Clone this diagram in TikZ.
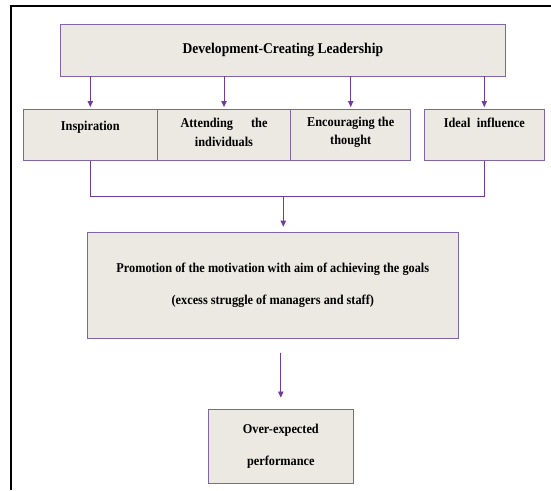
\documentclass[tikz,border=0pt]{standalone}
\usepackage{fontspec}
\setmainfont{Liberation Serif}[FakeStretch=0.91]
\usetikzlibrary{arrows.meta, positioning}

\definecolor{boxfill}{RGB}{236,233,226}
\definecolor{boxline}{RGB}{128,100,168}
\definecolor{arrline}{RGB}{112,60,160}

\begin{document}
\begin{tikzpicture}[x=1pt, y=-1pt]
\tikzstyle{box}=[draw=boxline, fill=boxfill, line width=0.8pt, inner sep=0pt, outer sep=0pt, align=center,
  font=\bfseries\fontsize{13.5}{31.7}\selectfont]
\tikzstyle{txt}=[inner sep=0pt, align=center, font=\bfseries\fontsize{13.5}{18.7}\selectfont]
\tikzstyle{conn}=[draw=arrline, line width=0.8pt]
\tikzstyle{arr}=[conn, -{Triangle[length=6pt, width=5.5pt]}]
\useasboundingbox (0,0) rectangle (551,490);
\draw[line width=2pt] (551,6) -- (10.7,6) -- (10.7,490);

% leadership and its four parts
\node[box, minimum width=444.3pt, minimum height=51.7pt, font=\bfseries\fontsize{14.9}{17}\selectfont]
   (lead) at (282.85,50.15) {Development-Creating Leadership};
\node[box, minimum width=134pt, minimum height=51.7pt] (inspire) at (90.3,134.85) {};
\node[box, minimum width=133.4pt, minimum height=51.7pt] (attend) at (224,134.85) {};
\node[box, minimum width=120pt, minimum height=51.7pt] (encour) at (350.7,134.85) {};
\node[box, minimum width=120pt, minimum height=51.7pt] (ideal) at (484.3,134.85) {};

\node[txt] at ([yshift=-18.7pt]inspire.north) {Inspiration};
\node[txt] at ([yshift=-23.4pt]attend.north) {Attending\hspace{18pt}the\\individuals};
\node[txt] at ([yshift=-23.4pt]encour.north) {Encouraging the\\thought};
\node[txt] at ([yshift=-14.3pt]ideal.north) {Ideal\hspace{6.5pt}influence};

% motivation and result
\node[box, minimum width=371pt, minimum height=106pt] (promo) at (272.8,285.3)
   {Promotion of the motivation with aim of achieving the goals\\(excess struggle of managers and staff)};
\node[box, minimum width=145pt, minimum height=74.3pt] (perform) at (280.8,446.15)
   {Over-expected\\performance};

\coordinate (join) at (283.3,196.3);

\draw[arr, shorten >=2pt] (lead.south -| inspire.north) -- (inspire.north);
\draw[arr, shorten >=2pt] (lead.south -| attend.north) -- (attend.north);
\draw[arr, shorten >=2pt] (lead.south -| encour.north) -- (encour.north);
\draw[arr, shorten >=2pt] (lead.south -| ideal.north) -- (ideal.north);

\draw[conn] (inspire.south) |- (join) -| (ideal.south);
\draw[arr, shorten >=5.6pt] (join) -- (join |- promo.north);
\draw[arr, shorten <=14.4pt, shorten >=11.5pt] (promo.south -| perform.north) -- (perform.north);
\end{tikzpicture}
\end{document}
